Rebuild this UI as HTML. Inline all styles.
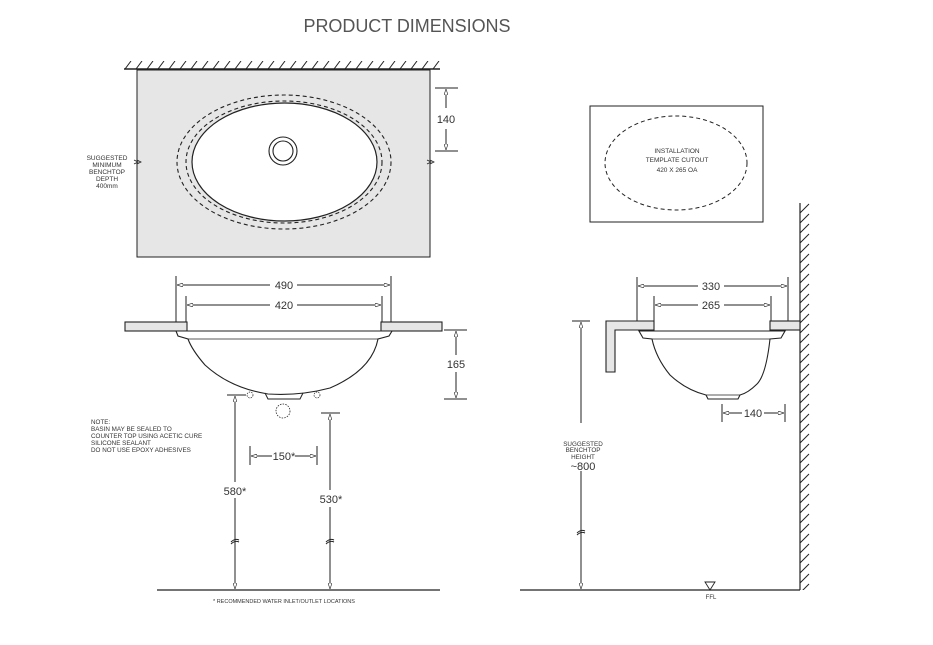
<!DOCTYPE html>
<html><head><meta charset="utf-8"><style>
html,body{margin:0;padding:0;background:#fff}
svg{display:block}
text{font-family:"Liberation Sans",sans-serif;fill:#333}
</style></head><body>
<svg width="933" height="645" viewBox="0 0 933 645" xmlns="http://www.w3.org/2000/svg">
<defs>
<pattern id="ht" x="124" y="61" width="11" height="8" patternUnits="userSpaceOnUse"><line x1="1" y1="8" x2="7" y2="0" stroke="#222" stroke-width="1"/></pattern>
<pattern id="hw" x="800" y="203" width="10" height="10" patternUnits="userSpaceOnUse"><line x1="0" y1="10" x2="9" y2="1" stroke="#222" stroke-width="1"/></pattern>
<marker id="a" markerWidth="6" markerHeight="4" refX="6" refY="2" orient="auto"><path d="M0,0 L6,2 L0,4 Z" fill="#fff" stroke="#222" stroke-width="0.6"/></marker>
</defs>
<text x="407" y="32" font-size="18" text-anchor="middle" textLength="207" style="fill:#555">PRODUCT DIMENSIONS</text>

<!-- TOP VIEW -->
<rect x="124" y="61" width="316" height="8" fill="url(#ht)"/>
<line x1="124" y1="69" x2="440" y2="69" stroke="#222" stroke-width="1.5"/>
<rect x="137" y="70" width="293" height="187" fill="#e6e6e6" stroke="#222" stroke-width="1"/>
<ellipse cx="284" cy="162" rx="107" ry="67" fill="none" stroke="#222" stroke-width="1.1" stroke-dasharray="4,3"/>
<ellipse cx="284" cy="162" rx="98" ry="61" fill="none" stroke="#222" stroke-width="1.1" stroke-dasharray="4,3"/>
<ellipse cx="284.5" cy="162" rx="92.5" ry="59" fill="#fff" stroke="#222" stroke-width="1.2"/>
<circle cx="283" cy="151" r="14" fill="#fff" stroke="#222" stroke-width="1.1"/>
<circle cx="283" cy="151" r="10" fill="#fff" stroke="#222" stroke-width="1.1"/>
<path d="M134,160 l4,2 l-4,2 M137,160 l4,2 l-4,2" fill="none" stroke="#222" stroke-width="0.8"/>
<path d="M427,160 l4,2 l-4,2 M430,160 l4,2 l-4,2" fill="none" stroke="#222" stroke-width="0.8"/>
<line x1="435" y1="88" x2="458" y2="88" stroke="#222" stroke-width="1.1"/>
<line x1="435" y1="151" x2="458" y2="151" stroke="#222" stroke-width="1.1"/>
<line x1="446" y1="108" x2="446" y2="89" stroke="#222" stroke-width="1" marker-end="url(#a)"/>
<line x1="446" y1="129" x2="446" y2="150" stroke="#222" stroke-width="1" marker-end="url(#a)"/>
<text x="446" y="123" font-size="11" text-anchor="middle">140</text>
<g font-size="6.5" text-anchor="middle"><text x="107" y="160">SUGGESTED</text><text x="107" y="167">MINIMUM</text><text x="107" y="174">BENCHTOP</text><text x="107" y="181">DEPTH</text><text x="107" y="188">400mm</text></g>

<!-- TEMPLATE -->
<rect x="590" y="106" width="173" height="116" fill="#fff" stroke="#222" stroke-width="1"/>
<ellipse cx="676" cy="163" rx="71" ry="47" fill="none" stroke="#222" stroke-width="1" stroke-dasharray="4,3"/>
<g font-size="6.5" text-anchor="middle"><text x="677" y="153">INSTALLATION</text><text x="677" y="162">TEMPLATE CUTOUT</text><text x="677" y="172">420 X 265 OA</text></g>

<!-- FRONT VIEW -->
<g stroke="#222" stroke-width="1" fill="none">
<line x1="176" y1="276" x2="176" y2="331"/><line x1="391" y1="276" x2="391" y2="331"/>
<line x1="186" y1="296" x2="186" y2="322"/><line x1="382" y1="296" x2="382" y2="322"/>
<line x1="270" y1="285" x2="177" y2="285" marker-end="url(#a)"/><line x1="297" y1="285" x2="390" y2="285" marker-end="url(#a)"/>
<line x1="270" y1="305" x2="187" y2="305" marker-end="url(#a)"/><line x1="297" y1="305" x2="381" y2="305" marker-end="url(#a)"/>
</g>
<text x="284" y="289" font-size="11" text-anchor="middle">490</text>
<text x="284" y="309" font-size="11" text-anchor="middle">420</text>
<rect x="125" y="322" width="62" height="9" fill="#e6e6e6" stroke="#222" stroke-width="1.1"/>
<rect x="381" y="322" width="61" height="9" fill="#e6e6e6" stroke="#222" stroke-width="1.1"/>
<path d="M176,331 L392,331 L389,336 L378,339 Q372,370 330,388 Q300,396 268,394 Q230,388 205,365 Q192,350 188,339 L178,336 Z" fill="#fff" stroke="#222" stroke-width="1.1"/>
<line x1="188" y1="339" x2="378" y2="339" stroke="#222" stroke-width="0.7"/>
<path d="M265,393 L268,399 L300,399 L303,393" fill="none" stroke="#222" stroke-width="1"/>
<circle cx="250" cy="395" r="3" fill="none" stroke="#222" stroke-width="0.7" stroke-dasharray="1.5,1"/>
<circle cx="317" cy="395" r="3" fill="none" stroke="#222" stroke-width="0.7" stroke-dasharray="1.5,1"/>
<circle cx="283" cy="411" r="7" fill="none" stroke="#222" stroke-width="0.8" stroke-dasharray="1.5,1.2"/>
<g stroke="#222" stroke-width="1" fill="none">
<line x1="444" y1="330" x2="467" y2="330"/><line x1="444" y1="399" x2="467" y2="399"/>
<line x1="456" y1="355" x2="456" y2="331" marker-end="url(#a)"/><line x1="456" y1="372" x2="456" y2="398" marker-end="url(#a)"/>
<line x1="227" y1="395" x2="246" y2="395"/><line x1="321" y1="413" x2="340" y2="413"/>
<line x1="235" y1="482" x2="235" y2="396" marker-end="url(#a)"/><line x1="235" y1="498" x2="235" y2="589" marker-end="url(#a)"/>
<line x1="330" y1="490" x2="330" y2="414" marker-end="url(#a)"/><line x1="330" y1="507" x2="330" y2="589" marker-end="url(#a)"/>
<line x1="250" y1="446" x2="250" y2="465"/><line x1="317" y1="446" x2="317" y2="465"/>
<line x1="272" y1="456" x2="251" y2="456" marker-end="url(#a)"/><line x1="295" y1="456" x2="316" y2="456" marker-end="url(#a)"/>
<path d="M231,542 q4,-4 8,-2 M231,544 q4,-4 8,-2"/><path d="M326,542 q4,-4 8,-2 M326,544 q4,-4 8,-2"/>
</g>
<line x1="157" y1="590" x2="440" y2="590" stroke="#222" stroke-width="1.2"/>
<text x="235" y="495" font-size="11" text-anchor="middle">580*</text>
<text x="331" y="503" font-size="11" text-anchor="middle">530*</text>
<text x="284" y="460" font-size="11" text-anchor="middle">150*</text>
<text x="456" y="368" font-size="11" text-anchor="middle">165</text>
<text x="284" y="603" font-size="5.5" text-anchor="middle">* RECOMMENDED WATER INLET/OUTLET LOCATIONS</text>
<g font-size="6.3"><text x="91" y="424">NOTE:</text><text x="91" y="431">BASIN MAY BE SEALED TO</text><text x="91" y="438">COUNTER TOP USING ACETIC CURE</text><text x="91" y="445">SILICONE SEALANT</text><text x="91" y="452">DO NOT USE EPOXY ADHESIVES</text></g>

<!-- SIDE VIEW -->
<rect x="800" y="203" width="10" height="387" fill="url(#hw)"/>
<line x1="800" y1="203" x2="800" y2="590" stroke="#222" stroke-width="1.2"/>
<line x1="520" y1="590" x2="800" y2="590" stroke="#222" stroke-width="1.2"/>
<path d="M705,582 L715,582 L710,590 Z" fill="#fff" stroke="#222" stroke-width="0.9"/>
<text x="711" y="599" font-size="6" text-anchor="middle">FFL</text>
<path d="M606,321 L654,321 L654,330 L615,330 L615,372 L606,372 Z" fill="#e6e6e6" stroke="#222" stroke-width="1.1"/>
<rect x="770" y="321" width="30" height="9" fill="#e6e6e6" stroke="#222" stroke-width="1.1"/>
<path d="M639,331 L785,331 L781,338 L770,339 Q766,375 757,384 Q748,393 740,395 L738,399 L708,399 L706,395 Q686,390 670,375 Q656,358 652,339 L643,338 Z" fill="#fff" stroke="#222" stroke-width="1.1"/>
<line x1="652" y1="339" x2="770" y2="339" stroke="#222" stroke-width="0.7"/>
<line x1="706" y1="395" x2="740" y2="395" stroke="#222" stroke-width="0.7"/>
<g stroke="#222" stroke-width="1" fill="none">
<line x1="637" y1="277" x2="637" y2="321"/><line x1="788" y1="277" x2="788" y2="321"/>
<line x1="654" y1="296" x2="654" y2="321"/><line x1="771" y1="296" x2="771" y2="321"/>
<line x1="698" y1="286" x2="638" y2="286" marker-end="url(#a)"/><line x1="724" y1="286" x2="787" y2="286" marker-end="url(#a)"/>
<line x1="698" y1="305" x2="655" y2="305" marker-end="url(#a)"/><line x1="724" y1="305" x2="770" y2="305" marker-end="url(#a)"/>
<line x1="722" y1="404" x2="722" y2="422"/><line x1="785" y1="404" x2="785" y2="422"/>
<line x1="742" y1="413" x2="723" y2="413" marker-end="url(#a)"/><line x1="764" y1="413" x2="784" y2="413" marker-end="url(#a)"/>
<line x1="572" y1="321" x2="590" y2="321"/>
<line x1="581" y1="423" x2="581" y2="322" marker-end="url(#a)"/><line x1="581" y1="471" x2="581" y2="589" marker-end="url(#a)"/>
<path d="M577,533 q4,-4 8,-2 M577,535 q4,-4 8,-2"/>
</g>
<text x="711" y="290" font-size="11" text-anchor="middle">330</text>
<text x="711" y="309" font-size="11" text-anchor="middle">265</text>
<text x="753" y="417" font-size="11" text-anchor="middle">140</text>
<g font-size="6.3" text-anchor="middle"><text x="583" y="446">SUGGESTED</text><text x="583" y="452">BENCHTOP</text><text x="583" y="459">HEIGHT</text></g>
<text x="583" y="470" font-size="11" text-anchor="middle">~800</text>
</svg>
</body></html>
